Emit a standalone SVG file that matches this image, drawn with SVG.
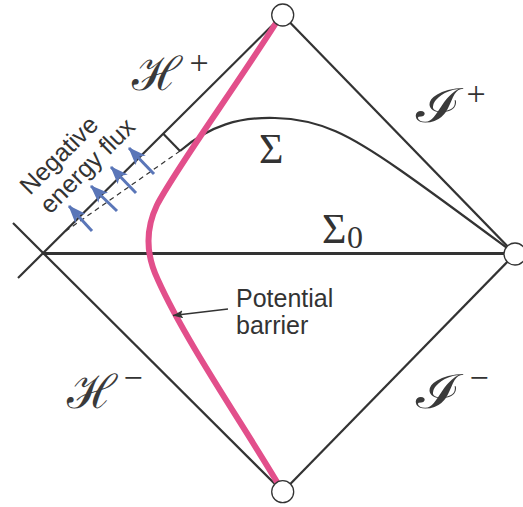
<svg xmlns="http://www.w3.org/2000/svg" width="523" height="507" viewBox="0 0 523 507">
<defs>
<style>
.ln{fill:none;stroke:#333;stroke-width:2.2;stroke-linecap:butt}
.vx{fill:#fff;stroke:#333;stroke-width:1.3}
.lab{font-family:"Liberation Sans",Arial,sans-serif;font-size:25px;fill:#333}
.scr{font-family:"DejaVu Serif",serif;font-size:47px;fill:#3a3a3a}
.sup{font-family:"Liberation Serif","Times New Roman",serif;font-size:34px;fill:#333;text-anchor:middle}
.sig{font-family:"Liberation Serif","Times New Roman",serif;font-size:42px;fill:#333}
.flux{stroke:#5a76b8;stroke-width:3;fill:none}
</style>
<marker id="bh" viewBox="0 0 18 14" refX="17" refY="7" markerWidth="18" markerHeight="14" markerUnits="userSpaceOnUse" orient="auto">
<path d="M0,0 L18,7 L0,14 L4.5,7 Z" fill="#5a76b8"/>
</marker>
<marker id="kh" viewBox="0 0 10 8" refX="10" refY="4" markerWidth="10" markerHeight="8" markerUnits="userSpaceOnUse" orient="auto">
<path d="M0,0 L10,4 L0,8 L2,4 Z" fill="#333"/>
</marker>
</defs>
<g id="connectors">
<path class="ln" d="M18,278 L282.7,15"/>
<path class="ln" d="M13,223 L282.7,491.7"/>
<path class="ln" d="M282.7,15 L515,254"/>
<path class="ln" d="M515,254 L282.7,491.7"/>
<path class="ln" style="stroke-width:3" d="M43,253.5 L515,253.5"/>
<path class="ln" d="M163,133.5 L180,151"/>
<path class="ln" d="M180,151 C210,125 240,117 275,118 C320,119 350,135 400,170 C440,198 480,228 515,254"/>
<path fill="none" stroke="#333" stroke-width="1.2" stroke-dasharray="5,4" d="M180,151 L63,233"/>
<path fill="none" stroke="#e24f8b" stroke-width="6" stroke-linecap="round" d="M276,23 C230,95 175,170 157,205 C145,230 146,255 158,280 C185,340 240,420 277,482"/>
<path fill="none" stroke="#333" stroke-width="1.6" marker-end="url(#kh)" d="M228,309 L173,315.5"/>
<path class="flux" marker-end="url(#bh)" d="M92,231 L69,206"/>
<path class="flux" marker-end="url(#bh)" d="M117,211 L91,186"/>
<path class="flux" marker-end="url(#bh)" d="M136,193 L111,167"/>
<path class="flux" marker-end="url(#bh)" d="M154,174 L129,148"/>
</g>
<g id="vertex-top"><circle class="vx" cx="282.7" cy="15" r="11"/></g>
<g id="vertex-bottom"><circle class="vx" cx="282.7" cy="491.7" r="11"/></g>
<g id="vertex-right"><circle class="vx" cx="515" cy="254" r="11"/></g>
<g id="label-Hplus"><text class="scr" x="132" y="90">ℋ</text><text class="sup" x="199" y="74">+</text></g>
<g id="label-Iplus"><text class="scr" transform="translate(416,122) scale(1.3,1)">ℐ</text><text class="sup" x="476" y="105">+</text></g>
<g id="label-Hminus"><text class="scr" x="67" y="408">ℋ</text><text class="sup" x="133" y="389">−</text></g>
<g id="label-Iminus"><text class="scr" transform="translate(416,408) scale(1.3,1)">ℐ</text><text class="sup" x="479" y="389">−</text></g>
<g id="label-Sigma"><text class="sig" x="259" y="163">Σ</text></g>
<g id="label-Sigma0"><text class="sig" x="322" y="243">Σ</text><text class="sig" style="font-size:32px" x="347" y="248">0</text></g>
<g id="label-flux"><text class="lab" transform="translate(30,196) rotate(-45)">Negative</text><text class="lab" transform="translate(50,215) rotate(-45)">energy flux</text></g>
<g id="label-barrier"><text class="lab" x="236" y="307">Potential</text><text class="lab" x="236" y="334">barrier</text></g>
</svg>
